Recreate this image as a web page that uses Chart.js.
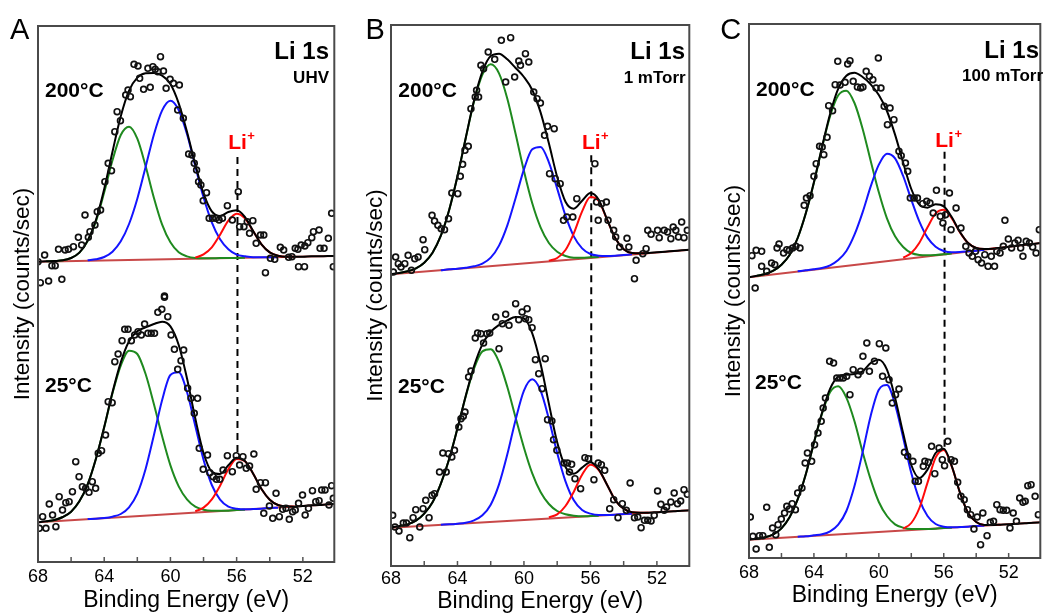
<!DOCTYPE html>
<html>
<head>
<meta charset="utf-8">
<script src="https://cdn.jsdelivr.net/npm/chart.js@4/dist/chart.umd.min.js"></script>
<style>
  body { margin: 0; background: #fff; width: 1046px; height: 616px; position: relative; overflow: hidden; }
  canvas { position: absolute; top: 0; }
</style>
</head>
<body>
<canvas id="panelA" width="340" height="616" style="left:0px"></canvas>
<canvas id="panelB" width="350" height="616" style="left:345px"></canvas>
<canvas id="panelC" width="346" height="616" style="left:700px"></canvas>
<script>
// energy grid of the fitted curves (eV); green starts at 67.5, blue at 65, red at 58.5
const fitE = [68,67.5,67,66.5,66,65.5,65,64.5,64,63.5,63,62.5,62,61.5,61,60.5,60,59.5,59,58.5,58,57.5,57,56.5,56,55.5,55,54.5,54,53.5,53,52.5,52,51.5,51,50.5,50];
const tickLabels = [68, 64, 60, 56, 52];
const minorTicks = [66, 64, 62, 60, 58, 56, 54, 52];
const liPlusEnergy = 55.95;

// ---- A : UHV ----
const aHotPoints = [[68.0,901],[67.6,921],[67.16,889],[66.96,889],[67.86,838],[67.36,843],[66.56,848],[66.76,938],[66.36,936],[66.16,938],[65.86,946],[65.56,974],[65.36,951],[65.16,1041],[64.96,974],[64.86,991],[64.56,1011],[64.42,1051],[64.22,1056],[63.96,1141],[63.76,1196],[63.56,1174],[63.36,1291],[63.22,1351],[63.02,1324],[62.7,1401],[62.56,1416],[62.42,1396],[62.2,1493],[61.96,1488],[61.86,1451],[61.62,1418],[61.36,1481],[61.22,1424],[61.06,1486],[60.92,1478],[60.76,1471],[60.6,1516],[60.42,1473],[60.26,1421],[60.02,1448],[59.82,1436],[59.46,1431],[59.56,1356],[59.22,1331],[58.9,1224],[58.7,1221],[58.56,1196],[58.42,1176],[58.3,1141],[58.16,1131],[57.82,1108],[58.02,1084],[57.66,1031],[57.46,1031],[57.26,1031],[57.06,1026],[56.86,1031],[56.56,1069],[56.26,1026],[55.9,1111],[55.82,1006],[55.56,1006],[55.36,1021],[55.22,986],[55.02,1024],[54.82,956],[54.56,981],[54.36,981],[54.26,868],[53.96,911],[53.7,908],[53.36,944],[53.16,936],[52.86,914],[52.66,916],[52.46,941],[52.3,938],[52.26,886],[51.9,886],[52.1,951],[51.88,948],[51.7,958],[51.46,973],[51.36,991],[51.02,996],[50.96,941],[50.72,941],[50.46,971],[50.26,1046],[50.16,886],[60.36,798]];
const aHotFit = [901,902,903,905,912,928,964,1026,1119,1231,1337,1414,1453,1466,1467,1459,1434,1376,1291,1193,1106,1052,1038,1050,1055,1035,993,953,929,919,916,916,916,917,917,918,918];
const aHotGreen = [902,903,905,912,928,963,1022,1109,1205,1281,1306,1270,1188,1093,1012,959,929,917,912,911,911,912,912,912,913];
const aHotBlue = [905,908,915,931,962,1014,1090,1185,1282,1355,1384,1356,1284,1188,1094,1019,968,938,922,917,914,914,914,915];
const aHotRed = [913,923,944,982,1024,1045,1031,992,953,929,919,916,916];
const aHotBase = [901, 918];

const aColdPoints = [[67.92,101],[67.72,136],[67.52,101],[67.32,174],[67.12,141],[66.92,106],[66.72,196],[66.52,156],[66.32,178],[66.12,181],[65.92,211],[65.72,301],[65.52,256],[65.32,226],[65.12,221],[64.92,209],[64.72,241],[64.52,221],[64.36,326],[64.16,334],[63.92,381],[63.76,481],[63.52,478],[63.36,601],[63.16,624],[62.92,664],[62.76,698],[62.56,698],[62.36,664],[62.16,681],[61.96,691],[61.76,681],[61.56,714],[61.36,686],[61.16,686],[60.96,686],[60.76,749],[60.52,758],[60.36,794],[60.16,736],[59.96,681],[59.76,638],[59.56,578],[59.36,604],[59.2,636],[58.96,521],[58.76,491],[58.56,446],[58.36,491],[58.26,341],[58.02,278],[57.76,321],[57.62,268],[57.42,256],[57.22,248],[57.02,248],[56.82,276],[56.56,319],[56.26,271],[56.02,319],[55.82,291],[55.62,316],[55.42,281],[55.22,288],[54.96,324],[54.82,218],[54.56,238],[54.26,238],[54.36,146],[54.02,168],[53.82,131],[53.62,206],[53.42,136],[53.22,158],[53.02,161],[52.82,128],[52.62,151],[52.46,156],[52.26,176],[52.02,201],[51.86,141],[51.66,161],[51.42,214],[51.22,181],[51.02,184],[50.86,216],[50.66,216],[50.42,171],[50.26,229],[50.16,191]];
const aColdFit = [119,122,126,135,151,182,233,310,405,509,599,662,692,704,714,721,707,651,551,431,327,271,264,290,313,303,265,219,187,171,167,166,168,170,171,173,174];
const aColdGreen = [122,126,135,151,182,233,310,404,506,589,634,624,564,474,377,290,227,188,166,157,154,154,154,156,157];
const aColdBlue = [129,130,132,136,144,164,205,279,380,486,561,569,510,409,307,231,187,166,160,158,159,160,162,163];
const aColdRed = [152,163,188,229,278,309,302,265,219,187,171,167,166];
const aColdBase = [119, 174];

// ---- B : 1 mTorr ----
const bHotPoints = [[67.86,882],[67.72,927],[67.56,907],[67.4,897],[67.17,907],[66.97,932],[66.77,887],[66.57,922],[66.37,927],[66.07,979],[65.97,949],[65.53,1052],[65.38,1035],[65.18,1022],[64.98,1012],[64.78,1009],[64.54,1042],[64.34,1119],[63.98,1117],[63.83,1169],[63.69,1205],[63.55,1247],[63.35,1259],[63.19,1372],[62.93,1407],[62.73,1407],[62.85,1427],[62.59,1502],[62.43,1492],[62.15,1542],[61.76,1520],[61.36,1577],[61.1,1452],[60.8,1585],[60.56,1467],[60.31,1515],[60.21,1502],[59.91,1537],[59.71,1512],[59.41,1422],[59.21,1402],[59.01,1389],[58.76,1292],[58.58,1319],[58.18,1312],[58.46,1177],[58.12,1162],[57.82,1147],[57.62,1037],[57.42,1047],[57.06,1047],[56.82,1102],[55.73,1207],[55.63,1092],[55.53,1037],[55.33,1087],[55.04,1092],[54.94,1037],[54.6,1007],[54.48,987],[54.24,957],[53.8,983],[53.69,957],[53.35,862],[53.25,917],[52.85,937],[52.65,952],[52.55,1007],[52.35,995],[51.96,1007],[51.86,985],[51.56,1007],[51.36,1002],[51.16,982],[51.02,1017],[50.86,1007],[50.7,987],[50.51,1032],[50.37,985],[50.17,1007]];
const bHotFit = [876,879,884,893,910,940,991,1068,1169,1285,1397,1483,1530,1537,1520,1494,1467,1428,1361,1268,1167,1093,1072,1096,1119,1099,1040,983,950,939,938,939,941,943,945,947,949];
const bHotGreen = [879,884,893,910,940,991,1068,1169,1284,1394,1474,1505,1478,1402,1296,1185,1088,1016,969,943,930,925,925,926,927];
const bHotBlue = [887,890,892,895,899,907,925,961,1022,1104,1190,1250,1257,1211,1132,1051,989,953,936,931,930,931,933,935];
const bHotRed = [916,924,948,998,1064,1107,1095,1039,983,950,939,938,939];
const bHotBase = [875, 949];

const bColdPoints = [[67.9,152],[67.76,117],[67.52,105],[67.26,129],[67.07,129],[66.87,85],[66.67,145],[66.51,169],[66.27,117],[66.07,172],[65.91,197],[65.71,145],[65.53,212],[65.38,217],[65.08,282],[64.88,339],[64.68,282],[64.54,337],[64.34,327],[64.18,347],[63.92,417],[63.79,442],[63.65,449],[63.55,462],[63.33,567],[63.19,585],[62.93,684],[62.79,699],[62.59,697],[62.43,669],[62.23,697],[62.06,699],[61.7,747],[61.5,652],[61.3,727],[61.1,755],[60.9,722],[60.5,787],[60.31,739],[60.11,762],[59.91,742],[59.81,772],[59.71,739],[59.51,715],[59.31,619],[59.11,577],[58.91,532],[58.72,622],[58.58,439],[58.32,435],[58.22,379],[58.02,347],[57.58,309],[57.38,309],[57.13,305],[57.26,282],[56.93,262],[56.59,232],[56.33,325],[56.13,322],[55.79,259],[55.53,309],[55.34,304],[55.14,287],[54.84,172],[54.6,199],[54.34,145],[54.08,187],[53.84,167],[53.61,249],[53.35,145],[53.15,147],[52.95,115],[52.75,137],[52.55,137],[52.35,135],[52.16,152],[51.96,225],[51.76,185],[51.56,167],[51.42,177],[51.16,192],[50.96,219],[50.76,187],[50.57,195],[50.37,229],[50.17,215]];
const bColdFit = [116,120,125,136,157,191,247,321,413,511,600,665,702,723,737,747,743,698,607,487,371,297,277,295,311,290,244,197,172,161,160,160,161,163,164,166,167];
const bColdGreen = [120,125,136,157,191,247,321,413,509,593,644,650,612,537,445,355,278,222,186,165,155,151,149,150,151];
const bColdBlue = [124,125,127,130,137,152,184,245,335,439,526,560,526,441,339,254,197,168,157,153,153,154,156,157];
const bColdRed = [146,155,180,223,274,304,288,244,197,172,161,160,160];
const bColdBase = [115, 167];

// ---- C : 100 mTorr ----
const cHotPoints = [[67.82,907],[67.56,923],[67.22,920],[67.62,810],[67.22,875],[66.91,860],[66.61,885],[66.41,880],[66.27,930],[66.15,942],[65.87,915],[65.67,925],[65.51,923],[65.31,930],[65.11,935],[64.86,930],[64.6,1058],[64.46,1080],[64.24,1087],[64.0,1145],[63.86,1183],[63.65,1235],[63.49,1233],[63.39,1210],[63.19,1262],[63.09,1357],[62.85,1342],[62.69,1420],[62.53,1490],[62.39,1419],[62.08,1427],[61.92,1482],[61.78,1492],[61.58,1430],[61.32,1413],[61.12,1410],[60.98,1413],[60.78,1460],[60.58,1445],[60.37,1435],[60.17,1410],[59.87,1410],[60.03,1500],[59.67,1355],[59.47,1300],[59.31,1350],[59.07,1315],[58.76,1220],[58.62,1207],[58.36,1185],[58.22,1160],[58.06,1080],[57.82,1080],[57.62,1080],[57.3,1063],[57.05,1070],[56.85,1065],[56.65,1035],[56.45,1103],[56.21,1025],[56.05,1005],[55.89,1030],[55.65,1095],[55.55,985],[55.24,1050],[54.94,990],[54.64,935],[54.44,915],[54.24,905],[54.04,920],[53.88,895],[53.67,885],[53.47,910],[53.27,875],[53.07,905],[52.87,875],[52.73,920],[52.53,915],[52.33,935],[52.23,1013],[52.02,957],[51.82,930],[51.62,945],[51.42,953],[51.26,930],[51.12,905],[50.92,950],[50.72,945],[50.52,933],[50.31,915],[50.11,985]];
const cHotFit = [842,847,852,862,880,909,960,1034,1127,1233,1333,1408,1447,1456,1443,1421,1389,1341,1270,1186,1107,1060,1051,1061,1055,1022,978,945,930,927,928,931,934,937,940,942,945];
const cHotGreen = [847,852,862,880,909,960,1034,1126,1231,1326,1388,1402,1365,1288,1191,1097,1019,965,933,915,909,908,909,911,914];
const cHotBlue = [860,863,866,870,878,894,921,970,1037,1115,1180,1213,1199,1146,1075,1009,961,934,921,917,918,920,922,925];
const cHotRed = [901,915,946,992,1034,1045,1019,977,945,930,927,928,931];
const cHotBase = [842, 945];

const cColdPoints = [[67.92,123],[67.76,65],[67.56,27],[67.36,67],[67.15,67],[66.91,152],[66.75,32],[66.55,90],[66.35,70],[66.21,100],[66.01,117],[65.81,135],[65.67,155],[65.51,147],[65.34,163],[65.14,145],[65.0,195],[64.74,210],[64.54,285],[64.4,315],[64.14,290],[63.96,340],[63.75,375],[63.55,410],[63.43,450],[63.29,480],[63.03,590],[62.79,585],[62.59,540],[62.39,540],[62.19,540],[61.98,545],[61.78,490],[61.58,565],[61.28,550],[61.12,560],[60.98,605],[60.74,645],[60.58,560],[60.27,590],[59.97,643],[59.77,545],[59.57,630],[59.37,535],[59.17,465],[58.97,490],[58.76,507],[58.42,317],[58.22,305],[57.9,290],[57.76,230],[57.56,230],[57.26,275],[57.16,290],[56.95,287],[56.75,335],[56.55,253],[56.29,330],[56.09,295],[55.95,277],[55.75,350],[55.55,295],[55.34,290],[55.14,227],[54.94,185],[54.74,175],[54.54,145],[54.34,130],[54.14,87],[53.94,123],[53.73,40],[53.59,135],[53.33,67],[53.13,107],[52.93,110],[52.73,160],[52.53,145],[52.33,143],[52.12,143],[51.92,90],[51.72,135],[51.52,110],[51.32,180],[51.12,167],[50.98,170],[50.82,217],[50.62,220],[50.37,185],[50.17,130]];
const cColdFit = [55,58,62,71,89,122,176,251,346,436,508,544,550,552,560,585,595,565,481,374,279,240,265,315,328,275,196,135,108,99,99,100,101,103,104,106,107];
const cColdGreen = [58,62,71,89,122,176,251,345,433,498,515,481,410,318,235,168,126,101,91,87,87,87,88,90,91];
const cColdBlue = [64,65,68,71,80,100,141,216,317,427,505,519,461,361,255,175,126,102,94,92,93,94,96,97];
const cColdRed = [88,105,150,226,301,324,274,196,135,108,99,99,100];
const cColdBase = [55, 107];

// dashed Li+ marker (intensity span)
const aLiLine = [330, 1224];
const bLiLine = [311, 1232];
const cLiLine = [334, 1225];

const FONT = '"Liberation Sans", Arial, Helvetica, sans-serif';
Chart.defaults.font.family = FONT;
Chart.defaults.color = '#000';

function curve(label, xs, ys, color, order) {
    return {
        label: label,
        data: ys.map((y, i) => ({x: xs[i], y: y})),
        showLine: true,
        borderColor: color,
        borderWidth: 2,
        pointRadius: 0,
        cubicInterpolationMode: 'monotone',
        fill: false,
        order: order
    };
}

function spectrum(tag, pts, fit, green, blue, red, base) {
    return [
        {
            label: tag + ' data',
            data: pts.map(p => ({x: p[0], y: p[1]})),
            showLine: false,
            pointRadius: 2.9,
            pointBorderWidth: 1.7,
            pointBorderColor: '#111',
            pointBackgroundColor: 'rgba(255,255,255,0)',
            order: 0
        },
        curve(tag + ' fit', fitE, fit, '#000000', 1),
        curve(tag + ' Li+', fitE.slice(19, 32), red, '#ff0a0a', 2),
        curve(tag + ' blue', fitE.slice(6, 30), blue, '#1414ff', 3),
        curve(tag + ' green', fitE.slice(1, 26), green, '#1f8a1f', 4),
        curve(tag + ' base', [68, 50], base, '#c84848', 5)
    ];
}

const decor = {
    id: 'decor',
    afterDatasetsDraw(chart, args, o) {
        const {ctx, chartArea: a, scales: {x}} = chart;
        ctx.save();
        // inner ticks on the bottom edge
        ctx.strokeStyle = '#555';
        ctx.lineWidth = 1.5;
        minorTicks.forEach(v => {
            const px = x.getPixelForValue(v);
            ctx.beginPath();
            ctx.moveTo(px, a.bottom);
            ctx.lineTo(px, a.bottom - 5);
            ctx.stroke();
        });
        // frame
        ctx.strokeStyle = '#4a4a4a';
        ctx.lineWidth = 2;
        ctx.strokeRect(a.left, a.top, a.right - a.left, a.bottom - a.top);
        // labels
        ctx.textBaseline = 'middle';
        o.texts.forEach(t => {
            ctx.font = t.font + ' ' + FONT;
            ctx.textAlign = t.align || 'left';
            ctx.fillStyle = '#000';
            ctx.fillText(t.text, t.x, t.y);
        });
        // Li+ over the dashed line
        const lx = x.getPixelForValue(liPlusEnergy);
        ctx.fillStyle = '#ff0000';
        ctx.font = 'bold 21px ' + FONT;
        ctx.textAlign = 'center';
        ctx.fillText('Li', lx, o.liY);
        const w = ctx.measureText('Li').width;
        ctx.font = 'bold 13px ' + FONT;
        ctx.textAlign = 'left';
        ctx.fillText('+', lx + w / 2 + 0.5, o.liY - 7);
        ctx.restore();
    }
};

function makePanel(p) {
    const datasets = [].concat(
        spectrum('200C', p.hot[0], p.hot[1], p.hot[2], p.hot[3], p.hot[4], p.hot[5]),
        spectrum('25C', p.cold[0], p.cold[1], p.cold[2], p.cold[3], p.cold[4], p.cold[5]),
        [{
            label: 'Li+ line',
            data: [{x: liPlusEnergy, y: p.liLine[0]}, {x: liPlusEnergy, y: p.liLine[1]}],
            showLine: true,
            borderColor: '#000',
            borderWidth: 2,
            borderDash: [7, 5],
            pointRadius: 0,
            order: 6
        }]
    );
    return new Chart(document.getElementById(p.id), {
        type: 'scatter',
        data: {datasets: datasets},
        plugins: [decor],
        options: {
            responsive: false,
            animation: false,
            layout: {padding: p.padding},
            plugins: {
                legend: {display: false},
                tooltip: {enabled: false},
                decor: {texts: p.texts, liY: p.liY}
            },
            scales: {
                x: {
                    type: 'linear',
                    reverse: true,
                    min: p.xMin,
                    max: 68,
                    afterBuildTicks: s => { s.ticks = tickLabels.map(v => ({value: v})); },
                    afterFit: s => { s.height = p.xAxisHeight; },
                    grid: {display: false, drawTicks: false},
                    border: {display: false},
                    ticks: {color: '#000', font: {size: 18}, padding: p.tickPad, maxRotation: 0, autoSkip: false},
                    title: {
                        display: true,
                        text: 'Binding Energy (eV)',
                        color: '#000',
                        font: {size: 23},
                        padding: {top: 0, bottom: p.titlePad}
                    }
                },
                y: {
                    min: 0,
                    max: p.yMax,
                    afterFit: s => { s.width = 38; },
                    grid: {display: false, drawTicks: false},
                    border: {display: false},
                    ticks: {display: false},
                    title: {
                        display: true,
                        text: 'Intensity (counts/sec)',
                        color: '#000',
                        font: {size: 22.5},
                        padding: {top: 9, bottom: 0}
                    }
                }
            }
        }
    });
}

makePanel({
    id: 'panelA', xMin: 50.1, yMax: 1608,
    padding: {left: 0, top: 26, right: 4, bottom: 0},
    xAxisHeight: 54, tickPad: 4, titlePad: 2, liY: 143, liLine: aLiLine,
    hot: [aHotPoints, aHotFit, aHotGreen, aHotBlue, aHotRed, aHotBase],
    cold: [aColdPoints, aColdFit, aColdGreen, aColdBlue, aColdRed, aColdBase],
    texts: [
        {text: 'A', x: 10, y: 31, font: '29px'},
        {text: 'Li 1s', x: 329, y: 52, font: 'bold 24px', align: 'right'},
        {text: 'UHV', x: 329, y: 78, font: 'bold 17px', align: 'right'},
        {text: '200°C', x: 45, y: 91, font: 'bold 21px'},
        {text: '25°C', x: 45, y: 386, font: 'bold 21px'}
    ]
});

makePanel({
    id: 'panelB', xMin: 50.05, yMax: 1623,
    padding: {left: 8, top: 25, right: 3, bottom: 0},
    xAxisHeight: 50, tickPad: 2, titlePad: 0.5, liY: 143, liLine: bLiLine,
    hot: [bHotPoints, bHotFit, bHotGreen, bHotBlue, bHotRed, bHotBase],
    cold: [bColdPoints, bColdFit, bColdGreen, bColdBlue, bColdRed, bColdBase],
    texts: [
        {text: 'B', x: 20.5, y: 31, font: '29px'},
        {text: 'Li 1s', x: 340, y: 52, font: 'bold 24px', align: 'right'},
        {text: '1 mTorr', x: 340.7, y: 78, font: 'bold 17px', align: 'right'},
        {text: '200°C', x: 53.3, y: 91, font: 'bold 21px'},
        {text: '25°C', x: 53, y: 387, font: 'bold 21px'}
    ]
});

makePanel({
    id: 'panelC', xMin: 50.05, yMax: 1602,
    padding: {left: 11, top: 24, right: 1, bottom: 0},
    xAxisHeight: 58, tickPad: 4, titlePad: 7, liY: 141.5, liLine: cLiLine,
    hot: [cHotPoints, cHotFit, cHotGreen, cHotBlue, cHotRed, cHotBase],
    cold: [cColdPoints, cColdFit, cColdGreen, cColdBlue, cColdRed, cColdBase],
    texts: [
        {text: 'C', x: 20.2, y: 31, font: '29px'},
        {text: 'Li 1s', x: 339, y: 51, font: 'bold 24px', align: 'right'},
        {text: '100 mTorr', x: 343, y: 76, font: 'bold 17px', align: 'right'},
        {text: '200°C', x: 56, y: 90, font: 'bold 21px'},
        {text: '25°C', x: 55, y: 383, font: 'bold 21px'}
    ]
});
</script>
</body>
</html>
